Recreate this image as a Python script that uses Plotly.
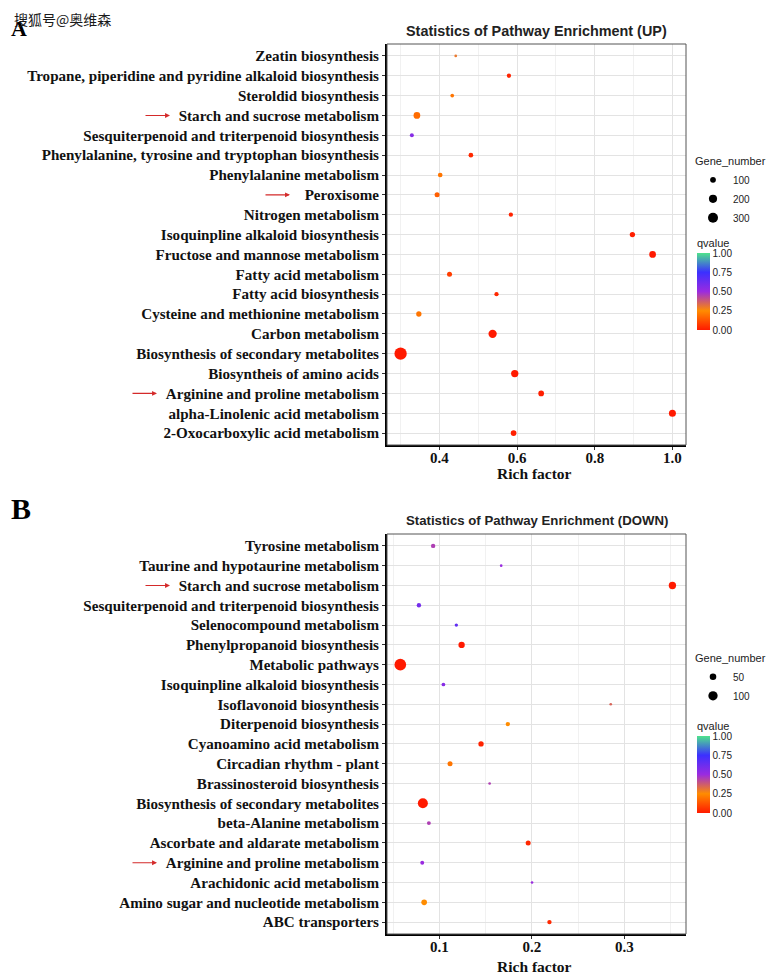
import plotly.graph_objects as go

W, H = 777, 980
OFF = 8                      # browser body margin
FW, FH = W - OFF, H - OFF    # figure size so the page fits the window

# ---------------- Data: panel A (UP) ----------------
up_terms = [
    "Zeatin biosynthesis",
    "Tropane, piperidine and pyridine alkaloid biosynthesis",
    "Steroldid biosynthesis",
    "Starch and sucrose metabolism",
    "Sesquiterpenoid and triterpenoid biosynthesis",
    "Phenylalanine, tyrosine and tryptophan biosynthesis",
    "Phenylalanine metabolism",
    "Peroxisome",
    "Nitrogen metabolism",
    "Isoquinpline alkaloid biosynthesis",
    "Fructose and mannose metabolism",
    "Fatty acid metabolism",
    "Fatty acid biosynthesis",
    "Cysteine and methionine metabolism",
    "Carbon metabolism",
    "Biosynthesis of secondary metabolites",
    "Biosyntheis of amino acids",
    "Arginine and proline metabolism",
    "alpha-Linolenic acid metabolism",
    "2-Oxocarboxylic acid metabolism",
]
up_rich = [0.442, 0.579, 0.433, 0.342, 0.329, 0.481, 0.402, 0.394, 0.584, 0.897,
           0.949, 0.426, 0.547, 0.347, 0.537, 0.300, 0.594, 0.662, 1.000, 0.591]
up_genes = [22, 55, 41, 135, 48, 66, 66, 75, 55, 85,
            135, 75, 55, 85, 207, 454, 160, 97, 147, 97]
up_q = [0.30, 0.02, 0.20, 0.18, 0.55, 0.03, 0.20, 0.15, 0.02, 0.01,
        0.00, 0.08, 0.03, 0.20, 0.00, 0.00, 0.00, 0.01, 0.00, 0.01]
up_size_legend = [100, 200, 300]

# ---------------- Data: panel B (DOWN) ----------------
down_terms = [
    "Tyrosine metabolism",
    "Taurine and hypotaurine metabolism",
    "Starch and sucrose metabolism",
    "Sesquiterpenoid and triterpenoid biosynthesis",
    "Selenocompound metabolism",
    "Phenylpropanoid biosynthesis",
    "Metabolic pathways",
    "Isoquinpline alkaloid biosynthesis",
    "Isoflavonoid biosynthesis",
    "Diterpenoid biosynthesis",
    "Cyanoamino acid metabolism",
    "Circadian rhythm - plant",
    "Brassinosteroid biosynthesis",
    "Biosynthesis of secondary metabolites",
    "beta-Alanine metabolism",
    "Ascorbate and aldarate metabolism",
    "Arginine and proline metabolism",
    "Arachidonic acid metabolism",
    "Amino sugar and nucleotide metabolism",
    "ABC transporters",
]
down_rich = [0.0932, 0.1668, 0.352, 0.0778, 0.1183, 0.124, 0.0577, 0.1043, 0.2853, 0.174,
             0.145, 0.1115, 0.1543, 0.0821, 0.0886, 0.196, 0.0814, 0.2002, 0.0835, 0.219]
down_genes = [22, 8, 62, 22, 13, 46, 158, 16, 8, 22,
              33, 29, 8, 116, 18, 29, 18, 8, 37, 22]
down_q = [0.45, 0.50, 0.00, 0.60, 0.65, 0.00, 0.00, 0.55, 0.35, 0.25,
          0.02, 0.20, 0.45, 0.00, 0.45, 0.03, 0.50, 0.50, 0.25, 0.03]
down_size_legend = [50, 100]

arrow_up = ["Starch and sucrose metabolism", "Peroxisome", "Arginine and proline metabolism"]
arrow_down = ["Starch and sucrose metabolism", "Arginine and proline metabolism"]

q_ticks = [0.0, 0.25, 0.5, 0.75, 1.0]
q_ticktext = ["0.00", "0.25", "0.50", "0.75", "1.00"]

colorscale = [[0.0, "#FF1A00"], [0.25, "#FF8C00"], [0.5, "#9A2BE0"],
              [0.75, "#3B30FF"], [1.0, "#4EE38C"]]

# diameter (px) = K * sqrt(gene_number)
K_UP = 0.577
K_DOWN = 0.93
REF_UP = 2.0 / K_UP ** 2      # plotly area mode: d = sqrt(2 v / sizeref)
REF_DOWN = 2.0 / K_DOWN ** 2

SERIF_B = dict(family="Liberation Serif", color="#111111", weight="bold")
SANS = "Liberation Sans"


def fx(s):
    return (s - OFF) / FW


def fy(s):
    return 1 - (s - OFF) / FH


fig = go.Figure()

# Panel A points
fig.add_trace(go.Scatter(
    x=up_rich, y=up_terms, mode="markers", xaxis="x", yaxis="y", showlegend=False,
    marker=dict(size=up_genes, sizemode="area", sizeref=REF_UP, sizemin=1,
                color=up_q, coloraxis="coloraxis", line=dict(width=0), opacity=1),
))
for n in up_size_legend:
    fig.add_trace(go.Scatter(
        x=[None], y=[None], mode="markers", xaxis="x", yaxis="y", name=str(n),
        legend="legend", showlegend=True,
        marker=dict(size=K_UP * n ** 0.5, color="black"),
    ))

# Panel B points
fig.add_trace(go.Scatter(
    x=down_rich, y=down_terms, mode="markers", xaxis="x2", yaxis="y2", showlegend=False,
    marker=dict(size=down_genes, sizemode="area", sizeref=REF_DOWN, sizemin=1,
                color=down_q, coloraxis="coloraxis2", line=dict(width=0), opacity=1),
))
for n in down_size_legend:
    fig.add_trace(go.Scatter(
        x=[None], y=[None], mode="markers", xaxis="x2", yaxis="y2", name=str(n),
        legend="legend2", showlegend=True,
        marker=dict(size=K_DOWN * n ** 0.5, color="black"),
    ))

xdom = [fx(387), fx(686)]
ydom_up = [fy(445), fy(44)]
ydom_down = [fy(934), fy(534)]

grid_major = "#E3E3E3"
grid_minor = "#F1F1F1"


def xaxis_cfg(anchor, rng, dtick, tick0, minor_dtick, fmt):
    return dict(
        domain=xdom, anchor=anchor, range=rng, dtick=dtick, tick0=tick0, tickformat=fmt,
        showgrid=True, gridcolor=grid_major, gridwidth=1,
        minor=dict(dtick=minor_dtick, tick0=tick0, showgrid=True, gridcolor=grid_minor, gridwidth=0.6),
        showline=True, linecolor="black", linewidth=2, ticks="outside", ticklen=3,
        tickcolor="#333333", tickwidth=1, zeroline=False, ticklabelstandoff=-5,
        tickfont=dict(size=15, **SERIF_B), automargin=False,
    )


def yaxis_cfg(anchor, dom, terms):
    return dict(
        domain=dom, anchor=anchor, type="category", categoryorder="array",
        categoryarray=list(reversed(terms)), range=[-0.6, len(terms) - 0.4],
        showgrid=True, gridcolor=grid_major, gridwidth=1,
        showline=True, linecolor="black", linewidth=2, ticks="outside", ticklen=3,
        tickcolor="#333333", tickwidth=1, zeroline=False,
        tickfont=dict(size=15.1, **SERIF_B), automargin=False,
    )


def cbar(ytop_px):
    return dict(
        x=fx(697), xanchor="left", y=fy(ytop_px), yanchor="top", ypad=0, xpad=0,
        lenmode="pixels", len=94, thickness=13, outlinewidth=0,
        title=dict(text="qvalue", side="top", font=dict(family=SANS, size=11, color="#222")),
        tickvals=q_ticks, ticktext=q_ticktext, ticks="",
        tickfont=dict(family=SANS, size=10, color="#222"),
    )


def legend_cfg(ytop_px):
    return dict(
        x=fx(693), xanchor="left", y=fy(ytop_px), yanchor="top",
        title=dict(text="Gene_number", font=dict(family=SANS, size=11, color="#222")),
        font=dict(family=SANS, size=10, color="#222"), itemsizing="trace",
        bgcolor="rgba(0,0,0,0)", tracegroupgap=0, itemwidth=30,
    )


annotations = []
shapes = []

for xr, yr, ypix, xt_y, tsize, title in [
        ("x", "y", 31, 473, 14.4, "Statistics of Pathway Enrichment (UP)"),
        ("x2", "y2", 520, 966, 13.2, "Statistics of Pathway Enrichment (DOWN)")]:
    annotations.append(dict(
        text=title, xref="paper", yref="paper", x=fx((387 + 686) / 2), y=fy(ypix),
        xanchor="center", yanchor="middle", showarrow=False,
        font=dict(family=SANS, size=tsize, color="#222", weight="bold"),
    ))
    annotations.append(dict(
        text="Rich factor", xref="paper", yref="paper", x=fx((387 + 686) / 2 - 2), y=fy(xt_y),
        xanchor="center", yanchor="middle", showarrow=False,
        font=dict(size=15.5, **SERIF_B),
    ))
    shapes.append(dict(
        type="rect", xref=f"{xr} domain", yref=f"{yr} domain", x0=0, x1=1, y0=0, y1=1,
        line=dict(color="#555555", width=1), fillcolor="rgba(0,0,0,0)", layer="above",
    ))

for term, tip in zip(arrow_up, [170, 290, 157]):
    annotations.append(dict(
        x=fx(tip), xref="paper", y=term, yref="y", text="", showarrow=True,
        ax=-26, ay=0, arrowcolor="#D42A2A", arrowwidth=1.1, arrowhead=2, arrowsize=0.9,
    ))
for term, tip in zip(arrow_down, [170, 157]):
    annotations.append(dict(
        x=fx(tip), xref="paper", y=term, yref="y2", text="", showarrow=True,
        ax=-26, ay=0, arrowcolor="#D42A2A", arrowwidth=1.1, arrowhead=2, arrowsize=0.9,
    ))

# panel letters and watermark
annotations.append(dict(
    text="A", xref="paper", yref="paper", x=fx(9), y=fy(28), xanchor="left", yanchor="middle",
    showarrow=False, font=dict(family="Liberation Serif", size=22, color="#000", weight="bold"),
))
annotations.append(dict(
    text="搜狐号@奥维森", xref="paper", yref="paper", x=fx(12), y=fy(19),
    xanchor="left", yanchor="middle", showarrow=False,
    font=dict(family="Noto Sans CJK SC", size=14, color="#1a1a1a"),
))
annotations.append(dict(
    text="B", xref="paper", yref="paper", x=fx(9), y=fy(508), xanchor="left", yanchor="middle",
    showarrow=False, font=dict(family="Liberation Serif", size=30, color="#000", weight="bold"),
))

fig.update_layout(
    width=FW, height=FH, margin=dict(l=0, r=0, t=0, b=0),
    paper_bgcolor="white", plot_bgcolor="white",
    xaxis=xaxis_cfg("y", [0.265, 1.035], 0.2, 0.4, 0.1, ".1f"),
    yaxis=yaxis_cfg("x", ydom_up, up_terms),
    xaxis2=xaxis_cfg("y2", [0.0433, 0.3667], 0.1, 0.1, 0.05, ".1f"),
    yaxis2=yaxis_cfg("x2", ydom_down, down_terms),
    coloraxis=dict(cmin=0, cmax=1, colorscale=colorscale, colorbar=cbar(236)),
    coloraxis2=dict(cmin=0, cmax=1, colorscale=colorscale, colorbar=cbar(719)),
    legend=legend_cfg(151),
    legend2=legend_cfg(648),
    annotations=annotations, shapes=shapes,
)

fig.write_html("out.html")
